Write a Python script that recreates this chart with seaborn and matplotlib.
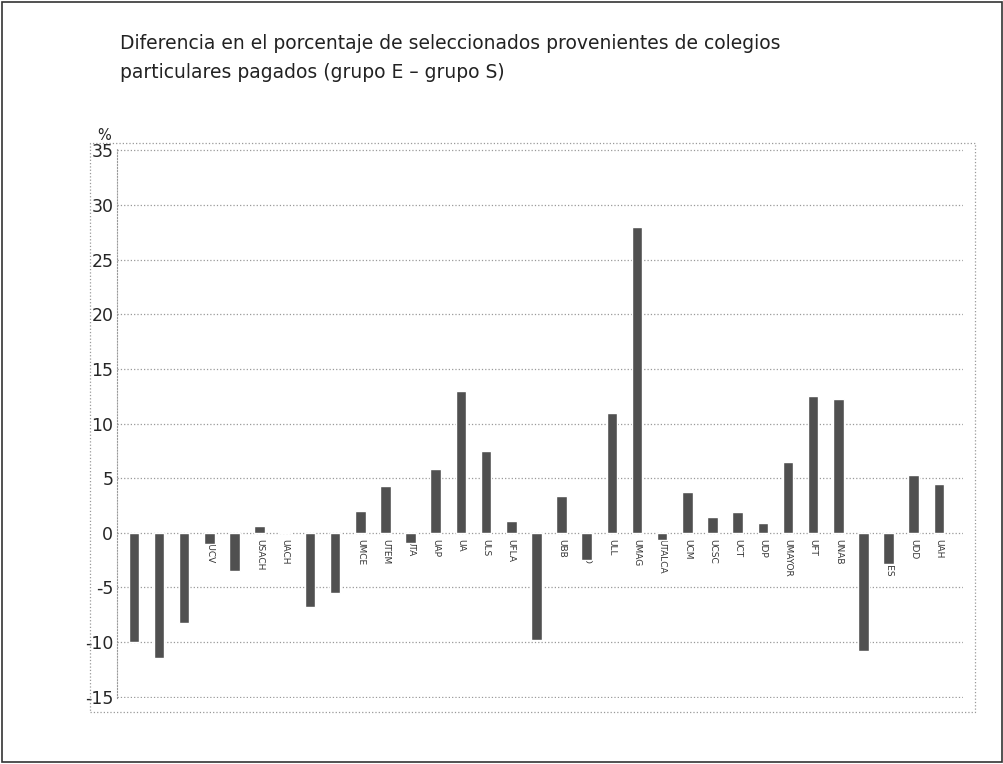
import seaborn as sns
import matplotlib.pyplot as plt
import matplotlib.patches as mpatches
import pandas as pd

# universidades y diferencia (grupo E - grupo S), en puntos porcentuales
universidades = ["UCH", "PUC", "UDEC", "PUCV", "UTFSM", "USACH", "UACH", "UCN", "UV",
                 "UMCE", "UTEM", "UTA", "UAP", "UA", "ULS", "UFLA", "UDA", "UBB",
                 "UFRO", "ULL", "UMAG", "UTALCA", "UCM", "UCSC", "UCT", "UDP",
                 "UMAYOR", "UFT", "UNAB", "UAI", "UANDES", "UDD", "UAH"]
diferencia = [-10.0, -11.5, -8.3, -1.0, -3.5, 0.6, 0.1, -6.8, -5.5,
              2.0, 4.3, -0.9, 5.8, 13.0, 7.5, 1.1, -9.8, 3.4,
              -2.5, 11.0, 28.0, -0.7, 3.7, 1.4, 1.9, 0.9,
              6.5, 12.5, 12.2, -10.8, -2.9, 5.3, 4.5]

df = pd.DataFrame({"universidad": universidades, "diferencia": diferencia})

sns.set_style("white")
plt.rcParams["font.family"] = ["DejaVu Sans"]
plt.rcParams["axes.unicode_minus"] = False

fig = plt.figure(figsize=(10.04, 7.64), dpi=100)
ax = fig.add_axes([0.117, 0.086, 0.842, 0.720])

sns.barplot(data=df, x="universidad", y="diferencia", color="#505050",
            width=0.42, saturation=1, ax=ax, zorder=3)

# etiquetas de categoria bajo la linea del cero (tapadas por barras negativas)
for i, nombre in enumerate(universidades):
    ax.text(i, -0.6, nombre, rotation=270, ha="center", va="top",
            fontsize=6.5, color="#333333", zorder=2)

ax.set_ylim(-15.15, 35.2)
ax.set_xlim(-0.65, 32.95)
ax.set_yticks(range(-15, 36, 5))
ax.tick_params(axis="y", labelsize=12.5, length=0, pad=3)
ax.set_xticks([])
ax.set_xlabel("")
ax.set_ylabel("")
ax.yaxis.grid(True, linestyle=":", color="#999999", linewidth=0.9)
ax.set_axisbelow(True)
for lado in ["top", "right", "bottom"]:
    ax.spines[lado].set_visible(False)
ax.spines["left"].set_linestyle(":")
ax.spines["left"].set_color("#999999")

# titulo y unidad
fig.text(0.120, 0.943, "Diferencia en el porcentaje de seleccionados provenientes de colegios",
         fontsize=13.5, color="#222222", va="center")
fig.text(0.120, 0.905, "particulares pagados (grupo E – grupo S)",
         fontsize=13.5, color="#222222", va="center")
fig.text(0.097, 0.823, "%", fontsize=10.5, color="#222222", va="center")

# marco del area de grafico y borde exterior
fig.patches.append(mpatches.Rectangle((0.09, 0.068), 0.881, 0.745, transform=fig.transFigure,
                                      fill=False, linestyle=":", edgecolor="#999999", linewidth=0.9))
fig.patches.append(mpatches.Rectangle((0.002, 0.003), 0.996, 0.994, transform=fig.transFigure,
                                      fill=False, edgecolor="#333333", linewidth=1.2))

fig.savefig("out.png", dpi=100)
